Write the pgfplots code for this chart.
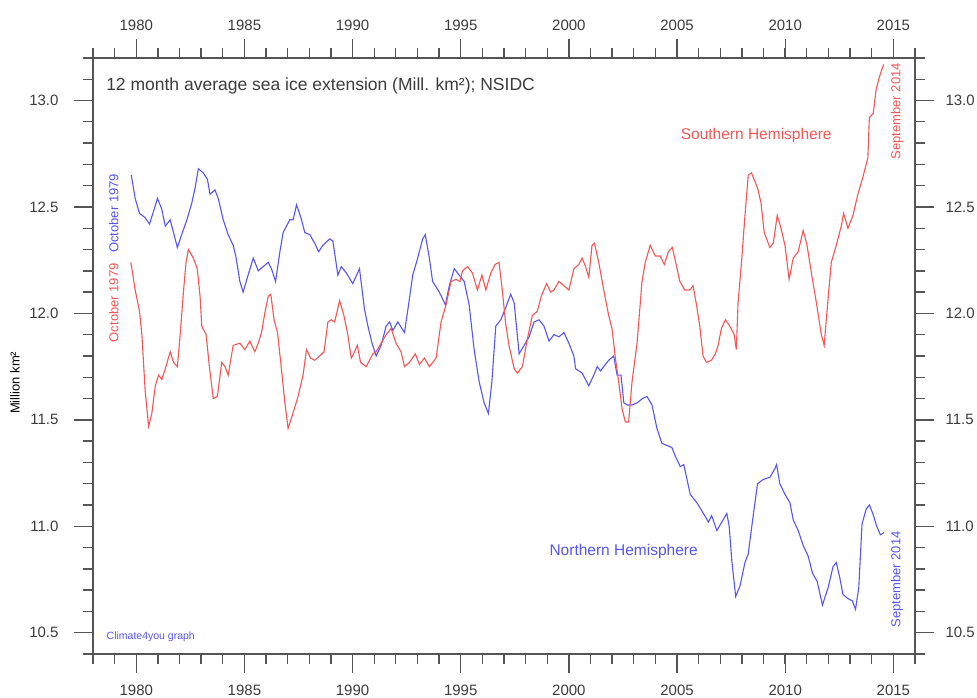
\documentclass[border=0pt]{standalone}
\usepackage{fontspec}
\setmainfont{Liberation Sans}
\usepackage{pgfplots}
\pgfplotsset{compat=1.18}

\definecolor{shred}{RGB}{242,86,86}
\definecolor{nhblue}{RGB}{86,86,242}
\definecolor{axgray}{RGB}{85,85,85}
\definecolor{labgray}{RGB}{60,60,60}

% 12 month running mean sea ice extent
\pgfplotstableread{
year value
1979.77 12.65
1979.95 12.54
1980.15 12.47
1980.41 12.45
1980.61 12.42
1980.80 12.48
1980.98 12.54
1981.18 12.49
1981.34 12.41
1981.57 12.44
1981.72 12.38
1981.90 12.31
1982.10 12.37
1982.34 12.44
1982.57 12.52
1982.72 12.59
1982.87 12.68
1983.10 12.66
1983.29 12.63
1983.41 12.56
1983.64 12.58
1983.79 12.54
1984.02 12.44
1984.25 12.37
1984.48 12.32
1984.60 12.27
1984.79 12.15
1984.94 12.10
1985.17 12.18
1985.41 12.26
1985.64 12.20
1986.10 12.24
1986.25 12.21
1986.44 12.15
1986.64 12.29
1986.79 12.38
1987.10 12.44
1987.25 12.44
1987.41 12.51
1987.64 12.44
1987.79 12.38
1988.02 12.37
1988.25 12.33
1988.43 12.29
1988.63 12.32
1988.94 12.35
1989.09 12.34
1989.32 12.18
1989.48 12.22
1989.71 12.19
1990.01 12.14
1990.32 12.21
1990.55 12.02
1990.71 11.94
1990.90 11.86
1991.09 11.80
1991.32 11.85
1991.55 11.94
1991.71 11.96
1991.86 11.92
1992.09 11.96
1992.40 11.91
1992.63 12.07
1992.78 12.18
1993.01 12.26
1993.24 12.35
1993.36 12.37
1993.55 12.26
1993.70 12.15
1994.01 12.10
1994.29 12.04
1994.47 12.13
1994.70 12.21
1994.93 12.18
1995.16 12.15
1995.39 12.04
1995.62 11.83
1995.85 11.68
1996.08 11.58
1996.28 11.53
1996.44 11.68
1996.62 11.94
1996.85 11.97
1997.05 12.02
1997.31 12.09
1997.47 12.05
1997.70 11.81
1997.93 11.85
1998.16 11.89
1998.39 11.96
1998.62 11.97
1998.85 11.94
1999.08 11.87
1999.31 11.90
1999.54 11.89
1999.77 11.91
2000.00 11.86
2000.23 11.80
2000.31 11.74
2000.61 11.72
2000.92 11.66
2001.15 11.71
2001.31 11.75
2001.46 11.73
2001.61 11.75
2001.84 11.78
2002.07 11.80
2002.23 11.71
2002.41 11.71
2002.54 11.58
2002.69 11.57
2002.92 11.57
2003.15 11.58
2003.40 11.60
2003.61 11.61
2003.84 11.57
2004.07 11.46
2004.30 11.39
2004.53 11.38
2004.76 11.37
2004.92 11.33
2005.15 11.28
2005.31 11.29
2005.46 11.22
2005.61 11.15
2005.92 11.11
2006.22 11.06
2006.45 11.02
2006.60 11.05
2006.84 10.98
2007.07 11.02
2007.30 11.06
2007.41 11.00
2007.53 10.84
2007.71 10.67
2007.91 10.72
2008.14 10.83
2008.29 10.87
2008.52 11.05
2008.72 11.20
2008.98 11.22
2009.29 11.23
2009.52 11.27
2009.60 11.29
2009.75 11.20
2009.99 11.15
2010.22 11.11
2010.37 11.03
2010.60 10.98
2010.83 10.91
2011.06 10.86
2011.26 10.78
2011.48 10.74
2011.72 10.63
2011.98 10.71
2012.21 10.81
2012.36 10.83
2012.52 10.76
2012.67 10.68
2012.90 10.66
2013.10 10.65
2013.25 10.61
2013.40 10.71
2013.55 11.01
2013.74 11.08
2013.89 11.10
2014.05 11.06
2014.23 11.00
2014.40 10.96
2014.56 10.97
}\north

\pgfplotstableread{
year value
1979.75 12.24
1979.95 12.11
1980.15 12.01
1980.26 11.90
1980.41 11.64
1980.57 11.47
1980.72 11.53
1980.88 11.66
1981.03 11.71
1981.18 11.69
1981.34 11.74
1981.57 11.82
1981.72 11.77
1981.90 11.75
1982.03 11.90
1982.18 12.10
1982.30 12.24
1982.41 12.30
1982.64 12.26
1982.82 12.21
1982.95 12.08
1983.03 11.94
1983.23 11.90
1983.38 11.75
1983.56 11.60
1983.75 11.61
1983.95 11.77
1984.10 11.75
1984.25 11.71
1984.48 11.85
1984.79 11.86
1985.02 11.83
1985.25 11.87
1985.48 11.82
1985.64 11.86
1985.79 11.91
1985.94 12.00
1986.10 12.08
1986.22 12.09
1986.37 11.97
1986.53 11.91
1986.71 11.74
1986.87 11.58
1987.02 11.46
1987.21 11.52
1987.48 11.61
1987.71 11.71
1987.87 11.83
1988.06 11.79
1988.25 11.78
1988.48 11.80
1988.68 11.82
1988.86 11.96
1989.02 11.97
1989.17 11.96
1989.40 12.06
1989.60 11.99
1989.78 11.90
1989.94 11.79
1990.09 11.82
1990.22 11.85
1990.37 11.77
1990.63 11.75
1990.94 11.81
1991.09 11.82
1991.32 11.86
1991.55 11.90
1991.78 11.93
1992.01 11.86
1992.24 11.82
1992.40 11.75
1992.63 11.77
1992.90 11.81
1993.09 11.76
1993.32 11.79
1993.55 11.75
1993.86 11.79
1994.09 11.96
1994.32 12.04
1994.55 12.15
1994.78 12.16
1994.96 12.15
1995.08 12.20
1995.31 12.22
1995.54 12.19
1995.77 12.11
1995.98 12.18
1996.16 12.11
1996.39 12.19
1996.59 12.23
1996.77 12.24
1996.93 12.10
1997.08 11.95
1997.23 11.85
1997.47 11.74
1997.62 11.72
1997.85 11.75
1998.08 11.88
1998.31 11.99
1998.54 12.01
1998.72 12.08
1998.97 12.14
1999.16 12.10
1999.31 12.11
1999.54 12.15
1999.77 12.13
2000.00 12.11
2000.23 12.21
2000.46 12.23
2000.61 12.26
2000.77 12.22
2000.92 12.17
2001.07 12.32
2001.18 12.33
2001.38 12.24
2001.61 12.11
2001.84 11.99
2001.99 11.93
2002.15 11.79
2002.30 11.68
2002.46 11.55
2002.61 11.49
2002.76 11.49
2002.92 11.68
2003.15 11.86
2003.38 12.15
2003.53 12.24
2003.76 12.32
2003.99 12.27
2004.22 12.27
2004.41 12.23
2004.60 12.29
2004.78 12.31
2004.98 12.22
2005.13 12.15
2005.36 12.11
2005.59 12.11
2005.74 12.13
2005.90 12.04
2006.05 11.94
2006.20 11.80
2006.36 11.77
2006.59 11.78
2006.77 11.81
2006.90 11.85
2007.05 11.93
2007.24 11.97
2007.44 11.94
2007.64 11.90
2007.74 11.83
2007.82 12.05
2007.98 12.24
2008.14 12.46
2008.29 12.65
2008.44 12.66
2008.60 12.62
2008.72 12.59
2008.88 12.52
2009.03 12.38
2009.29 12.31
2009.45 12.33
2009.63 12.46
2009.78 12.41
2009.99 12.32
2010.18 12.16
2010.37 12.26
2010.60 12.29
2010.83 12.39
2011.01 12.32
2011.21 12.19
2011.44 12.05
2011.67 11.90
2011.80 11.85
2011.94 12.02
2012.13 12.24
2012.36 12.32
2012.59 12.41
2012.70 12.47
2012.90 12.40
2013.13 12.46
2013.36 12.56
2013.59 12.64
2013.82 12.73
2013.89 12.92
2014.07 12.94
2014.20 13.05
2014.35 13.11
2014.55 13.17
}\south

\pgfplotsset{
  iceframe/.style={
    scale only axis, width=822pt, height=596pt,
    xmin=1978, xmax=2016, ymin=10.4, ymax=13.2,
    xtick={1980,1985,...,2015},
    ytick={10.5,11,11.5,12,12.5,13},
    minor xtick={1978,1979,...,2016},
    minor ytick={10.4,10.6,10.7,10.8,10.9,11.1,11.2,11.3,11.4,11.6,11.7,11.8,11.9,
                 12.1,12.2,12.3,12.4,12.6,12.7,12.8,12.9,13.1,13.2},
    tick pos=both, tick align=outside,
    major tick length=19pt, minor tick length=10pt,
    axis line style={axgray, line width=1.3pt},
    every tick/.style={axgray, line width=1.3pt},
    /pgf/number format/assume math mode=true,
    tick label style={font=\fontsize{15}{17}\selectfont, text=labgray},
    x tick label style={/pgf/number format/1000 sep={}},
    y tick label style={/pgf/number format/fixed, /pgf/number format/fixed zerofill,
                        /pgf/number format/precision=1},
  }
}

\begin{document}
\begin{tikzpicture}
\begin{axis}[iceframe, xticklabel pos=lower, yticklabel pos=left, clip=false,
    x tick label style={yshift=-8pt}, y tick label style={xshift=-12pt}]
  \addplot[nhblue, line width=1.1pt] table[x=year, y=value] {\north};
  \addplot[shred, line width=1.1pt] table[x=year, y=value] {\south};

  \node[anchor=west, font=\fontsize{17.5}{19}\selectfont, text=labgray]
    at (axis cs:1978.45,13.07) {12 month average sea ice extension (Mill. km²); NSIDC};
  \node[font=\fontsize{15.5}{17}\selectfont, text=shred] at (axis cs:2008.66,12.835) {Southern Hemisphere};
  \node[font=\fontsize{15.5}{17}\selectfont, text=nhblue] at (axis cs:2002.53,10.88) {Northern Hemisphere};
  \node[rotate=90, font=\fontsize{13}{15}\selectfont, text=nhblue] at (axis cs:1978.96,12.47) {October 1979};
  \node[rotate=90, font=\fontsize{13}{15}\selectfont, text=shred] at (axis cs:1978.96,12.05) {October 1979};
  \node[rotate=90, font=\fontsize{13}{15}\selectfont, text=shred] at (axis cs:2015.17,12.95) {September 2014};
  \node[rotate=90, font=\fontsize{13}{15}\selectfont, text=nhblue] at (axis cs:2015.17,10.75) {September 2014};
  \node[font=\fontsize{10.5}{12}\selectfont, text=nhblue] at (axis cs:1980.67,10.48) {Climate4you graph};
  \node[rotate=90, font=\fontsize{13}{15}\selectfont, text=black] at (rel axis cs:-0.095,0.455) {Million km²};
\end{axis}
\begin{axis}[iceframe, xticklabel pos=upper, yticklabel pos=right,
    x tick label style={yshift=5pt}, y tick label style={xshift=8pt}]
\end{axis}
\pgfresetboundingbox
\useasboundingbox (-93pt,-44pt) rectangle (884pt,654pt);
\end{tikzpicture}
\end{document}
